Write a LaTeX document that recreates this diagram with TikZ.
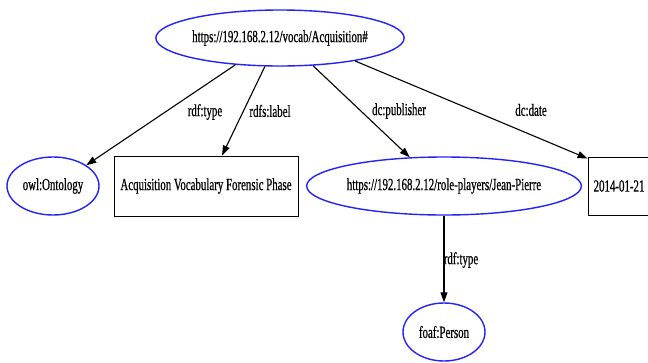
\documentclass[tikz,border=0pt]{standalone}
\usepackage{fontspec}
\setmainfont{Liberation Serif}[FakeStretch=0.64,FakeBold=0.6]
\usetikzlibrary{shapes.geometric,arrows.meta,calc}
\definecolor{nodeblue}{RGB}{35,35,245}
\tikzset{
  txt/.style={font=\fontsize{17pt}{19pt}\selectfont},
  res/.style={ellipse, draw=nodeblue, line width=1.4pt, inner sep=0pt, txt},
  lit/.style={rectangle, draw=black, line width=0.9pt, inner sep=0pt, txt},
  edge/.style={draw=black, line width=1.1pt, -{Triangle[length=10pt,width=7pt]}},
  elab/.style={inner sep=0pt, txt},
}
\begin{document}
\begin{tikzpicture}[x=1pt,y=-1pt]
\fill[white] (0,0) rectangle (648,362);
\path[use as bounding box, clip] (0,0) rectangle (648,362);
\node[res, minimum width=244pt, minimum height=56pt] (top) at (280,38) {https://192.168.2.12/vocab/Acquisition\#};
\node[res, minimum width=92pt, minimum height=58pt] (onto) at (53,186) {owl:Ontology};
\node[lit, minimum width=184pt, minimum height=60pt] (lab) at (206,186) {Acquisition Vocabulary Forensic Phase};
\node[res, minimum width=262pt, minimum height=58pt] (jp) at (444,186) {https://192.168.2.12/role-players/Jean-Pierre};
\node[lit, minimum width=62pt, minimum height=58pt] (date) at (619,186) {2014-01-21};
\node[res, minimum width=82pt, minimum height=58pt] (foaf) at (444,332) {foaf:Person};
\draw[edge] (top.211) -- (onto.32);
\draw[edge] (top.242) -- ($(lab.north)+(16,0)$);
\draw[edge] (top.320) -- (jp.140);
\draw[edge] (top.343) -- ($(date.north west)+(0,2)$);
\draw[edge] (jp.south) -- (foaf.north);
\node[elab] (l1) at (205,112) {rdf:type};
\node[elab] (l2) at (270,111) {rdfs:label};
\node[elab] (l3) at (399,111) {dc:publisher};
\node[elab] (l4) at (531,110) {dc:date};
\node[elab] (l5) at (461,260) {rdf:type};
\end{tikzpicture}
\end{document}
